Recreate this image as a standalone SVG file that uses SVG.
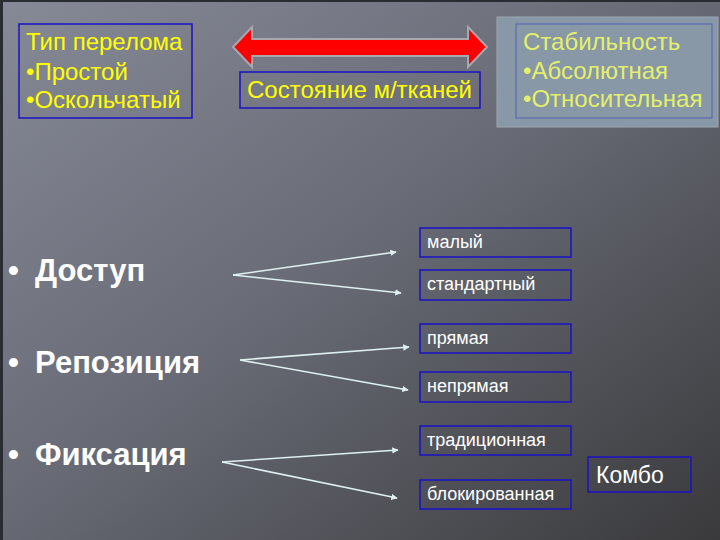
<svg xmlns="http://www.w3.org/2000/svg" width="720" height="540" viewBox="0 0 720 540">
<defs>
<linearGradient id="bg" x1="0" y1="0" x2="1" y2="1">
<stop offset="0" stop-color="#868a96"/>
<stop offset="0.45" stop-color="#6a6d78"/>
<stop offset="1" stop-color="#3a3a3c"/>
</linearGradient>
<marker id="ah" viewBox="0 0 10 10" refX="9" refY="5" markerWidth="4" markerHeight="4" orient="auto">
<path d="M0,0 L10,5 L0,10 z" fill="#dff0f0"/>
</marker>
<style>
.box{fill:none;stroke:#1a10c8;stroke-width:1.5}
.yt{font-family:"Liberation Sans",Arial,sans-serif;font-size:24px;fill:#ffff00}
.st{font-family:"Liberation Sans",Arial,sans-serif;font-size:24px;fill:#e4f06c}
.bt{font-family:"Liberation Sans",Arial,sans-serif;font-size:31px;font-weight:bold;fill:#ffffff}
.wt{font-family:"Liberation Sans",Arial,sans-serif;font-size:18px;fill:#ffffff}
.con{stroke:#dff0f0;stroke-width:1.6;fill:none;marker-end:url(#ah)}
</style>
</defs>
<rect width="720" height="540" fill="url(#bg)"/>
<rect x="0" y="0" width="720" height="2" fill="#2a2c34"/>
<rect x="0" y="0" width="3" height="540" fill="#2a2c34"/>

<g id="fracture-type">
<rect class="box" x="19" y="24" width="173" height="94"/>
<text class="yt" x="26" y="50">Тип перелома</text>
<text class="yt" x="26" y="80">•Простой</text>
<text class="yt" x="26" y="108">•Оскольчатый</text>
</g>

<g id="double-arrow">
<path d="M233,47 L252,27 L252,39 L468,39 L468,27 L487,47 L468,67 L468,56 L252,56 L252,67 Z" fill="#ff0000" stroke="#a8a8b0" stroke-width="2"/>
</g>

<g id="soft-tissue">
<rect class="box" x="240" y="72" width="240" height="36"/>
<text class="yt" x="247" y="98">Состояние м/тканей</text>
</g>

<g id="stability">
<rect x="497" y="17" width="221" height="110" fill="#8898a6" stroke="#9aa8b2" stroke-width="1"/>
<rect x="516" y="24" width="196" height="94" fill="none" stroke="#5060b8" stroke-width="1"/>
<text class="st" x="523" y="50">Стабильность</text>
<text class="st" x="523" y="79">•Абсолютная</text>
<text class="st" x="523" y="107">•Относительная</text>
</g>

<g id="access">
<text class="bt" x="8" y="281">•</text>
<text class="bt" x="35" y="281">Доступ</text>
</g>
<g id="reposition">
<text class="bt" x="8" y="373">•</text>
<text class="bt" x="35" y="373">Репозиция</text>
</g>
<g id="fixation">
<text class="bt" x="8" y="465">•</text>
<text class="bt" x="35" y="465">Фиксация</text>
</g>

<g id="connectors">
<line class="con" x1="233" y1="275" x2="396" y2="252"/>
<line class="con" x1="233" y1="275" x2="401" y2="293"/>
<line class="con" x1="240" y1="360" x2="409" y2="347"/>
<line class="con" x1="240" y1="360" x2="408" y2="390"/>
<line class="con" x1="222" y1="462" x2="398" y2="450"/>
<line class="con" x1="222" y1="462" x2="397" y2="498"/>
</g>

<g id="small">
<rect class="box" x="420" y="228" width="151" height="29"/>
<text class="wt" x="427" y="248">малый</text>
</g>
<g id="standard">
<rect class="box" x="420" y="270" width="151" height="30"/>
<text class="wt" x="427" y="290">стандартный</text>
</g>
<g id="direct">
<rect class="box" x="420" y="324" width="151" height="29"/>
<text class="wt" x="427" y="344">прямая</text>
</g>
<g id="indirect">
<rect class="box" x="420" y="372" width="151" height="30"/>
<text class="wt" x="427" y="392">непрямая</text>
</g>
<g id="traditional">
<rect class="box" x="420" y="426" width="151" height="29"/>
<text class="wt" x="427" y="446">традиционная</text>
</g>
<g id="locked">
<rect class="box" x="420" y="480" width="151" height="29"/>
<text class="wt" x="427" y="500">блокированная</text>
</g>
<g id="combo">
<rect class="box" x="588" y="457" width="103" height="35"/>
<text class="wt" x="596" y="483" style="font-size:23px">Комбо</text>
</g>
</svg>
